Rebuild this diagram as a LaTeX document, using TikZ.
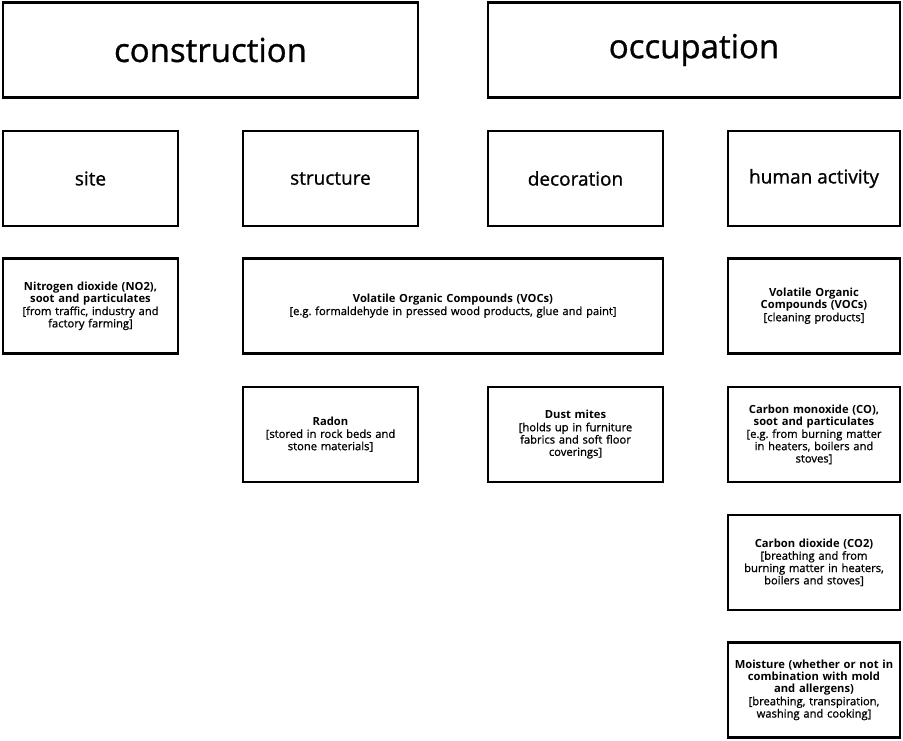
\documentclass[tikz,border=0pt]{standalone}
\usepackage{fontspec}
\setmainfont{Open Sans}[UprightFeatures={FakeBold=1}]
\usetikzlibrary{positioning}

\begin{document}
\begin{tikzpicture}[x=1pt, y=-1pt,
    box/.style = {draw, line width=2.8pt, inner sep=2pt, align=center,
                  minimum width=175pt, minimum height=95pt},
    headbox/.style = {box, minimum width=415pt, font=\fontsize{33}{38}\selectfont},
    catbox/.style = {box, font=\fontsize{19}{23}\selectfont},
    srcbox/.style = {box, text width=168pt, font=\fontsize{11.2}{12.3}\selectfont}]
        \useasboundingbox (0,0) rectangle (903,740);
        % top level
        \node[headbox] (construction) at (210.5,50) {construction};
        \node[headbox, minimum width=412pt] (occupation) at (694,50) {occupation};
        % categories
        \node[catbox] (site) at (90.5,178.5) {site};
        \node[catbox] (structure) at (330.5,178.5) {structure};
        \node[catbox] (decoration) at (575.5,178.5) {decoration};
        \node[catbox, minimum width=172pt] (human) at (814,178.5) {human activity};
        % sources
        \node[srcbox] (no2) at (90.5,306) {\textbf{Nitrogen dioxide (NO2),}\\ \textbf{soot and particulates}\\ {[from traffic, industry and}\\ factory farming]};
        \node[srcbox, minimum width=420pt, text width=400pt] (voc) at (453,306) {\textbf{Volatile Organic Compounds (VOCs)}\\ {[e.g.\ formaldehyde in pressed wood products, glue and paint]}};
        \node[srcbox, minimum width=172pt] (vochuman) at (814,306) {\textbf{Volatile Organic}\\ \textbf{Compounds (VOCs)}\\ {[cleaning products]}};
        \node[srcbox] (radon) at (330.5,434.5) {\textbf{Radon}\\ {[stored in rock beds and}\\ stone materials]};
        \node[srcbox] (dust) at (575.5,434.5) {\textbf{Dust mites}\\ {[holds up in furniture}\\ fabrics and soft floor\\ coverings]};
        \node[srcbox, minimum width=172pt] (co) at (814,434.5) {\textbf{Carbon monoxide (CO),}\\ \textbf{soot and particulates}\\ {[e.g.\ from burning matter}\\ in heaters, boilers and\\ stoves]};
        \node[srcbox, minimum width=172pt] (co2) at (814,562.5) {\textbf{Carbon dioxide (CO2)}\\ {[breathing and from}\\ burning matter in heaters,\\ boilers and stoves]};
        \node[srcbox, minimum width=172pt] (moist) at (814,690) {\textbf{Moisture (whether or not in}\\ \textbf{combination with mold}\\ \textbf{and allergens)}\\ {[breathing, transpiration,}\\ washing and cooking]};
\end{tikzpicture}
\end{document}
